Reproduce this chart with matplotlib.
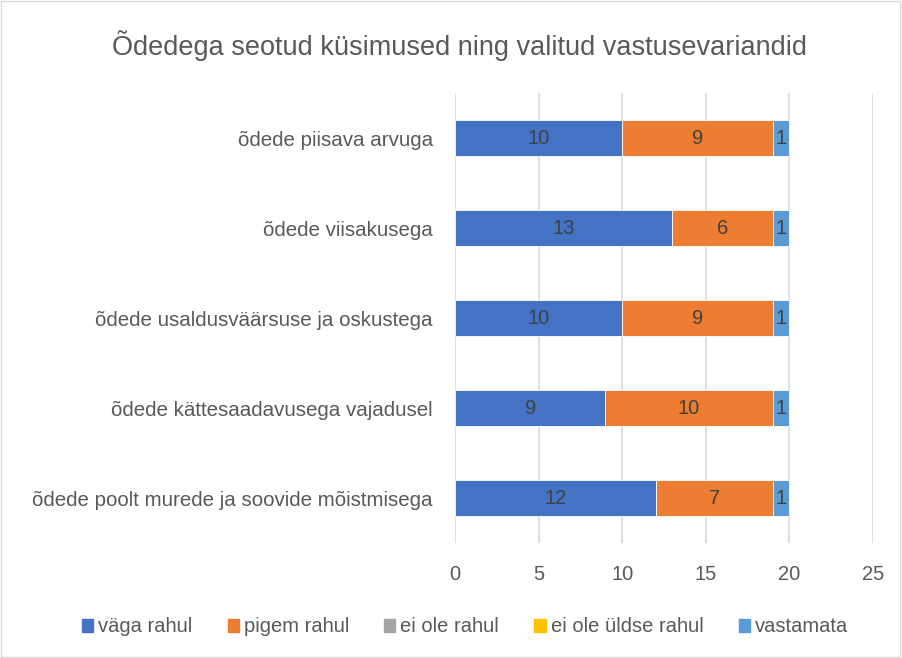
import matplotlib
matplotlib.use("Agg")
import matplotlib.pyplot as plt
from matplotlib.patches import Rectangle
import numpy as np

categories = [
    "õdede piisava arvuga",
    "õdede viisakusega",
    "õdede usaldusväärsuse ja oskustega",
    "õdede kättesaadavusega vajadusel",
    "õdede poolt murede ja soovide mõistmisega",
]
series_names = ["väga rahul", "pigem rahul", "ei ole rahul", "ei ole üldse rahul", "vastamata"]
vaga_rahul = [10, 13, 10, 9, 12]
pigem_rahul = [9, 6, 9, 10, 7]
ei_ole_rahul = [0, 0, 0, 0, 0]
ei_ole_uldse = [0, 0, 0, 0, 0]
vastamata = [1, 1, 1, 1, 1]
colors = ["#4472C4", "#ED7D31", "#A5A5A5", "#FFC000", "#5B9BD5"]
xticks = [0, 5, 10, 15, 20, 25]
title = "Õdedega seotud küsimused ning valitud vastusevariandid"

plt.rcParams['font.family'] = ['Liberation Sans', 'DejaVu Sans']

fig = plt.figure(figsize=(9.02, 6.58), dpi=100)
ax = fig.add_axes([455/902, 1-543/658, (873-455)/902, (543-93)/658])

data = [vaga_rahul, pigem_rahul, ei_ole_rahul, ei_ole_uldse, vastamata]
y = np.arange(len(categories))[::-1]
left = np.zeros(len(categories))
for name, vals, c in zip(series_names, data, colors):
    vals = np.array(vals, dtype=float)
    bars = ax.barh(y, vals, left=left, height=0.4, color=c, edgecolor="white", linewidth=0.6, label=name, zorder=3)
    for b, v in zip(bars, vals):
        if v > 0:
            ax.text(b.get_x() + b.get_width()/2, b.get_y() + b.get_height()/2, f"{int(v)}",
                    ha="center", va="center", fontsize=14.5, color="#404040", zorder=4)
    left += vals

ax.set_xlim(0, 25)
ax.set_ylim(-0.5, len(categories) - 0.5)
ax.set_xticks(xticks)
ax.set_xticklabels([str(t) for t in xticks], fontsize=14.5, color="#595959")
ax.set_yticks(y)
ax.set_yticklabels(categories, fontsize=14.8, color="#595959")
ax.tick_params(axis="both", length=0)
ax.tick_params(axis="x", pad=16)
ax.tick_params(axis="y", pad=16)
ax.grid(axis="x", color="#D9D9D9", linewidth=1.2, zorder=0)
for s in ax.spines.values():
    s.set_visible(False)

fig.text(460/902, 1-46/658, title, ha="center", va="center", fontsize=19.5, color="#595959")

handles = [Rectangle((0, 0), 1, 1, color=c) for c in colors]
fig.legend(handles, series_names, loc="center", bbox_to_anchor=(465/902, 1-627/658), ncol=5,
           frameon=False, fontsize=14.5, labelcolor="#595959", handlelength=0.55, handleheight=0.65,
           handletextpad=0.25, columnspacing=1.75)

fig.add_artist(Rectangle((0.001, 0.001), 0.997, 0.997, transform=fig.transFigure, fill=False,
                         edgecolor="#D9D9D9", linewidth=1))

fig.savefig("out.png", dpi=100)
